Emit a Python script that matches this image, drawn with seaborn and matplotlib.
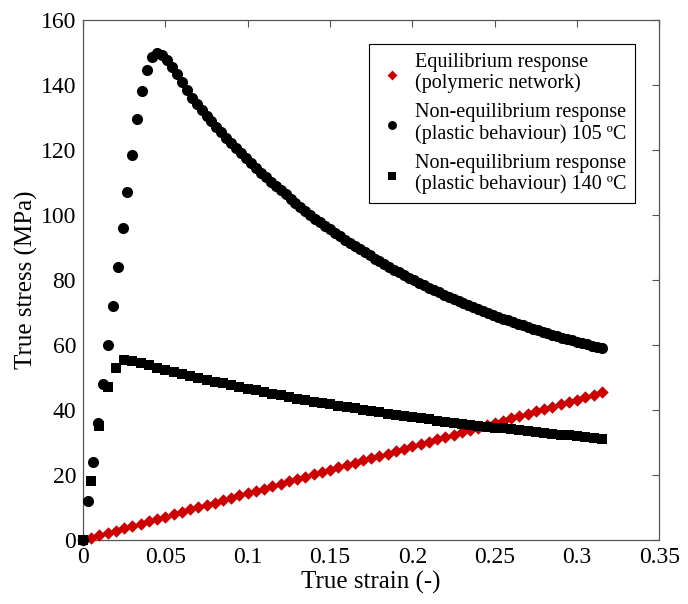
import numpy as np
import pandas as pd
import seaborn as sns
import matplotlib
matplotlib.use("Agg")
import matplotlib.pyplot as plt

# strain grids
strain_eq = np.round(np.arange(0, 64) * 0.005, 3)
strain_105 = np.round(np.arange(0, 106) * 0.003, 3)
strain_140 = np.round(np.arange(0, 64) * 0.005, 3)

# equilibrium response (polymeric network)
stress_eq = [
    0.0, 0.7, 1.4, 2.2, 2.9, 3.6, 4.3, 5.0, 5.8, 6.5,
    7.2, 7.9, 8.6, 9.4, 10.1, 10.8, 11.5, 12.2, 13.0, 13.7,
    14.4, 15.1, 15.8, 16.6, 17.3, 18.0, 18.7, 19.4, 20.2, 20.9,
    21.6, 22.3, 23.0, 23.8, 24.5, 25.2, 25.9, 26.6, 27.4, 28.1,
    28.8, 29.5, 30.2, 31.0, 31.7, 32.4, 33.1, 33.8, 34.6, 35.3,
    36.0, 36.7, 37.4, 38.2, 38.9, 39.6, 40.3, 41.0, 41.8, 42.5,
    43.2, 43.9, 44.6, 45.4,
]

# non-equilibrium response 105 C
stress_105 = [
    0, 12, 24, 36, 48, 60, 72, 84, 96, 107, 118.5, 129.5, 138, 144.6, 148.5, 149.8,
    149.3, 147.7, 145.6, 143.3, 140.9, 138.4,
    136.0, 134.1, 132.3, 130.5, 128.8, 127.1, 125.4, 123.7, 122.1, 120.5,
    119.0, 117.4, 115.9, 114.5, 113.0, 111.6, 110.2, 108.9, 107.6, 106.3,
    105.0, 103.7, 102.5, 101.3, 100.1, 98.9, 97.8, 96.7, 95.6, 94.5,
    93.5, 92.4, 91.4, 90.4, 89.5, 88.5, 87.6, 86.6, 85.7, 84.9,
    84.0, 83.1, 82.3, 81.5, 80.7, 79.9, 79.1, 78.4, 77.6, 76.9,
    76.2, 75.5, 74.8, 74.1, 73.5, 72.8, 72.2, 71.6, 71.0, 70.4,
    69.8, 69.2, 68.6, 68.1, 67.6, 67.0, 66.5, 66.0, 65.5, 65.0,
    64.5, 64.0, 63.6, 63.1, 62.7, 62.2, 61.8, 61.4, 61.0, 60.6,
    60.2, 59.8, 59.4, 59.0,
]

# non-equilibrium response 140 C
stress_140 = [
    0, 18, 35, 47, 53, 55.3,
    55.1, 54.4, 53.7, 53.0, 52.4, 51.8, 51.1, 50.5, 49.9, 49.3,
    48.7, 48.2, 47.6, 47.1, 46.5, 46.0, 45.5, 45.0, 44.5, 44.0,
    43.5, 43.1, 42.6, 42.2, 41.7, 41.3, 40.9, 40.5, 40.0, 39.6,
    39.3, 38.9, 38.5, 38.1, 37.8, 37.4, 37.1, 36.7, 36.4, 36.1,
    35.8, 35.5, 35.1, 34.8, 34.6, 34.3, 34.0, 33.7, 33.4, 33.2,
    32.9, 32.7, 32.4, 32.2, 31.9, 31.7, 31.4, 31.2,
]

labels = [
    "Equilibrium response\n(polymeric network)",
    "Non-equilibrium response\n(plastic behaviour) 105 \u00baC",
    "Non-equilibrium response\n(plastic behaviour) 140 \u00baC",
]
x_ticks = [0, 0.05, 0.1, 0.15, 0.2, 0.25, 0.3, 0.35]
x_tick_labels = ["0", "0.05", "0.1", "0.15", "0.2", "0.25", "0.3", "0.35"]
y_ticks = [0, 20, 40, 60, 80, 100, 120, 140, 160]

sns.set_theme(style="white")
plt.rcParams['font.family'] = ['Liberation Serif', 'DejaVu Serif']
plt.rcParams['text.color'] = 'black'
plt.rcParams['axes.labelcolor'] = 'black'

df_eq = pd.DataFrame({"strain": strain_eq, "stress": stress_eq})
df_105 = pd.DataFrame({"strain": strain_105, "stress": stress_105})
df_140 = pd.DataFrame({"strain": strain_140, "stress": stress_140})

fig = plt.figure(figsize=(6.88, 6.04), dpi=100)
ax = fig.add_axes([0.1206, 0.106, 0.9585 - 0.1206, 0.967 - 0.106])

sns.scatterplot(data=df_eq, x="strain", y="stress", marker="D", color="#cc0000",
                s=40, linewidth=0, label=labels[0], ax=ax, zorder=3, clip_on=False)
sns.scatterplot(data=df_105, x="strain", y="stress", marker="o", color="black",
                s=64, linewidth=0, label=labels[1], ax=ax, zorder=5, clip_on=False)
sns.scatterplot(data=df_140, x="strain", y="stress", marker="s", color="black",
                s=44, linewidth=0, label=labels[2], ax=ax, zorder=4, clip_on=False)

ax.set_xlim(0, 0.35)
ax.set_ylim(0, 160)
ax.set_xticks(x_ticks)
ax.set_xticklabels(x_tick_labels)
ax.set_yticks(y_ticks)
ax.tick_params(direction="in", length=5, width=0.8, color="#555555",
               labelsize=17, top=True, right=True, pad=5, labelcolor="black")
for sp in ax.spines.values():
    sp.set_color("#555555")
    sp.set_linewidth(0.9)
ax.set_xlabel("True strain (-)", fontsize=18, labelpad=2)
ax.set_ylabel("True stress (MPa)", fontsize=18, labelpad=2)

leg = ax.legend(loc="upper right", fontsize=14.5, frameon=True, fancybox=False,
                edgecolor="black", framealpha=1, borderaxespad=1.2,
                handletextpad=0.5, labelspacing=0.5, borderpad=0.45,
                handlelength=1.3, markerscale=0.8)
leg.get_frame().set_linewidth(0.8)
for t in leg.get_texts():
    t.set_linespacing(1.1)

plt.savefig("out.png", dpi=100)
